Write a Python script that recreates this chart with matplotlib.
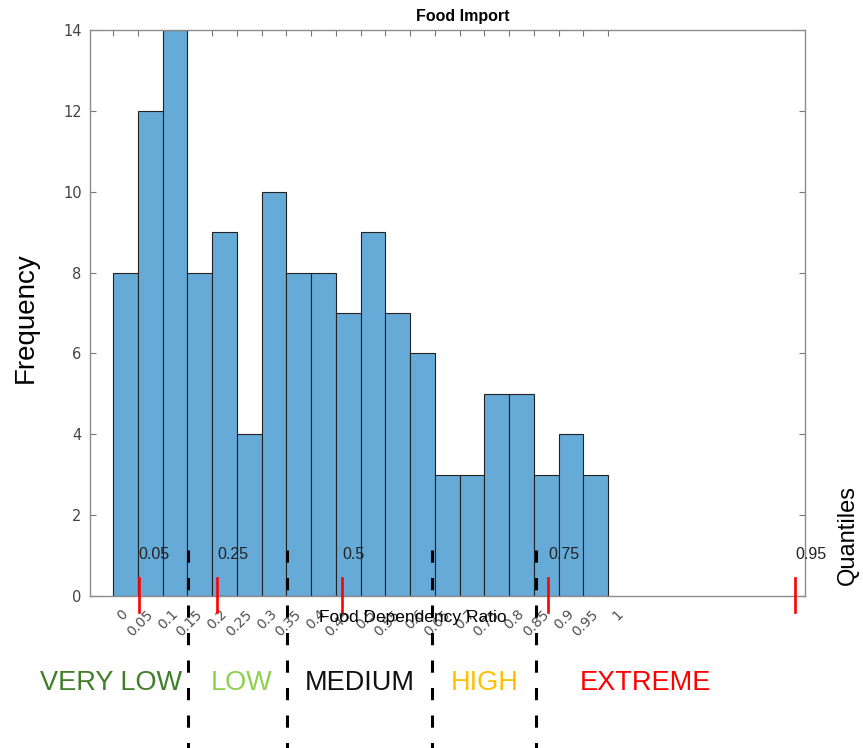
import matplotlib.pyplot as plt
from matplotlib.transforms import blended_transform_factory, ScaledTranslation

# histogram data (bins of 0.05 from 0 to 1)
bin_left = [0.0, 0.05, 0.1, 0.15, 0.2, 0.25, 0.3, 0.35, 0.4, 0.45,
            0.5, 0.55, 0.6, 0.65, 0.7, 0.75, 0.8, 0.85, 0.9, 0.95]
counts = [8, 12, 14, 8, 9, 4, 10, 8, 8, 7, 9, 7, 6, 3, 3, 5, 5, 3, 4, 3]
bin_width = 0.05

xtick_vals = bin_left + [1.0]
xtick_labels = ['0', '0.05', '0.1', '0.15', '0.2', '0.25', '0.3', '0.35', '0.4', '0.45',
                '0.5', '0.55', '0.6', '0.65', '0.7', '0.75', '0.8', '0.85', '0.9', '0.95', '1']

# quantile markers
quant_pos = [0.052, 0.21, 0.463, 0.879, 1.378]
quant_labels = ['0.05', '0.25', '0.5', '0.75', '0.95']

# class boundaries (black dashed) and class names
bounds = [0.152, 0.351, 0.645, 0.854]
classes = ['VERY LOW', 'LOW', 'MEDIUM', 'HIGH', 'EXTREME']
class_x = [0.1286, 0.2804, 0.4171, 0.5620, 0.7474]   # figure fraction
class_colors = ['#3f7f2a', '#8fd14f', '#111111', '#ffc000', '#ff0000']

fig = plt.figure(figsize=(8.63, 7.48), dpi=100)
ax = fig.add_axes([0.1043, 0.2032, 0.8285, 0.7567])

ax.bar(bin_left, counts, width=bin_width, align='edge',
       color='#66aad7', edgecolor='#222222', linewidth=0.8, zorder=2)

ax.set_xlim(-0.0465, 1.398)
ax.set_ylim(0, 14)
ax.set_yticks([0, 2, 4, 6, 8, 10, 12, 14])
ax.set_xticks(xtick_vals)
ax.set_xticklabels(xtick_labels, rotation=45, ha='right', va='top',
                   rotation_mode='anchor', fontsize=10, color='#505050')
ax.tick_params(axis='x', direction='in', top=True, length=4, color='#777777', pad=8)
ax.tick_params(axis='y', direction='in', right=True, length=4, color='#777777',
               labelsize=10.5, labelcolor='#444444', pad=6)
# shift rotated labels a bit to the right like the original
shift = ScaledTranslation(8 / 100, 0, fig.dpi_scale_trans)
for lbl in ax.get_xticklabels():
    lbl.set_transform(lbl.get_transform() + shift)
for s in ax.spines.values():
    s.set_color('#8c8c8c')
    s.set_linewidth(1.0)

# quantile ticks and labels
for q, lab in zip(quant_pos, quant_labels):
    ax.plot([q, q], [-0.4, 0.45], color='red', linewidth=1.9, clip_on=False, zorder=5)
    ax.text(q, 1.02, lab, fontsize=11.5, ha='left', va='center', color='#222222',
            family='Liberation Sans', zorder=5)

# dashed class boundaries running down to the bottom of the figure
trans = blended_transform_factory(ax.transData, fig.transFigure)
for b in bounds:
    ax.plot([b, b], [0.265, 0.0], transform=trans, color='black', linewidth=2.2,
            linestyle=(0, (4, 5)), clip_on=False, zorder=6)

fig.text(0.5365, 0.9786, 'Food Import', fontsize=11.5, fontweight='bold',
         ha='center', va='center', family='Liberation Sans')
fig.text(0.030, 0.575, 'Frequency', fontsize=20, rotation=90,
         ha='center', va='center', family='Liberation Sans')
fig.text(0.982, 0.285, 'Quantiles', fontsize=17, rotation=90,
         ha='center', va='center', family='Liberation Sans')
fig.text(0.478, 0.174, 'Food Dependency Ratio', fontsize=12.5,
         ha='center', va='center', family='Liberation Sans')

for name, cx, col in zip(classes, class_x, class_colors):
    fig.text(cx, 0.087, name, fontsize=19.5, color=col, ha='center', va='center',
             family='Liberation Sans')

fig.savefig('out.png', dpi=100)
